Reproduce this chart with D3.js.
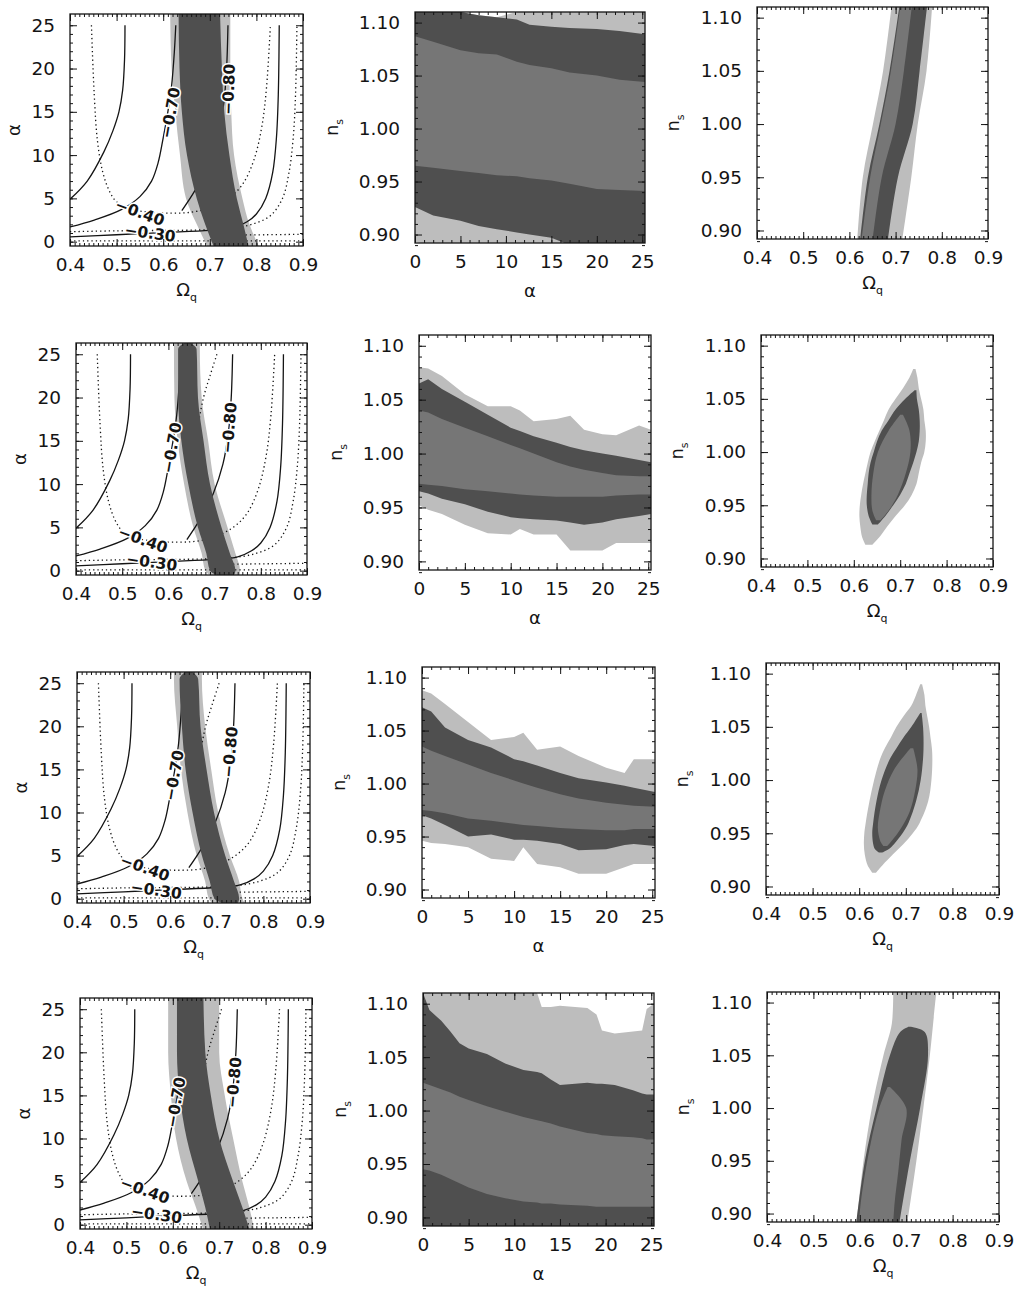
<!DOCTYPE html>
<html><head><meta charset="utf-8">
<script src="https://cdn.jsdelivr.net/npm/d3@7"></script>
<style>body{margin:0;background:#fff}svg{display:block}</style>
</head><body>
<svg id="fig" width="1017" height="1293"></svg>
<script>
// ---------------- tick labels ----------------
const omegaTicks = [0.4, 0.5, 0.6, 0.7, 0.8, 0.9];
const alphaTicks = [0, 5, 10, 15, 20, 25];
const nsTicks = [0.90, 0.95, 1.00, 1.05, 1.10];

// ---------------- left column: (Omega_q, alpha) bands ----------------
// [alpha, lightLo, lightHi, darkLo, darkHi]  (Omega_q bounds)
const bandL1 = [[26.3,0.615,0.744,0.633,0.722],[20,0.618,0.744,0.635,0.726],[15,0.626,0.746,0.640,0.731],
  [10,0.636,0.752,0.651,0.742],[5,0.649,0.770,0.672,0.758],[2,0.672,0.785,0.690,0.772],[-0.5,0.694,0.805,0.708,0.783]];
const bandL2 = [[26.3,0.612,0.668,0.634,0.648],[25.6,0.612,0.668,0.621,0.661],[20,0.613,0.672,0.621,0.664],
  [15,0.620,0.686,0.628,0.676],[10,0.634,0.700,0.643,0.690],[5,0.654,0.728,0.664,0.715],[2,0.672,0.745,0.682,0.733],
  [0,0.680,0.755,0.690,0.745],[-0.5,0.690,0.755,0.705,0.742]];
const bandL3 = [[26.3,0.608,0.668,0.632,0.648],[25.5,0.608,0.668,0.620,0.660],[20,0.615,0.675,0.625,0.665],
  [15,0.623,0.688,0.633,0.678],[10,0.637,0.703,0.648,0.694],[5,0.657,0.728,0.668,0.718],[2,0.675,0.748,0.685,0.737],
  [0,0.683,0.755,0.695,0.748],[-0.5,0.690,0.760,0.712,0.745]];
const bandL4 = [[26.3,0.590,0.700,0.609,0.666],[20,0.590,0.700,0.609,0.670],[15,0.596,0.712,0.615,0.682],
  [10,0.607,0.730,0.630,0.700],[5,0.630,0.750,0.655,0.730],[2,0.650,0.765,0.670,0.750],[-0.5,0.665,0.775,0.680,0.765]];

// contour curves [Omega_q, alpha]
const curveS1 = [[0.400,4.9],[0.437,7.0],[0.473,10.4],[0.492,12.8],[0.505,15],[0.513,17.5],[0.517,21],[0.518,25]];
const curveS2 = [[0.400,1.7],[0.452,2.5],[0.510,3.7],[0.550,5.2],[0.575,7.0],[0.589,9.1],[0.600,12],[0.610,15],[0.618,18],[0.624,22],[0.627,25]];
const curveS3 = [[0.400,0.55],[0.500,0.8],[0.600,1.05],[0.700,1.3],[0.750,1.6],[0.780,2.3],[0.800,3.2],[0.820,5.0],[0.835,8.0],[0.843,12],[0.847,17],[0.849,25]];
const curveS4 = [[0.640,3.6],[0.668,5.9],[0.697,8.9],[0.718,12.3],[0.730,16],[0.736,20],[0.739,25]];
const curveD1 = [[0.446,25],[0.452,17],[0.459,11.6],[0.470,8.1],[0.484,5.9],[0.500,4.6],[0.530,3.8],[0.570,3.4],[0.620,3.3],
  [0.660,3.4],[0.700,3.9],[0.740,5.0],[0.770,6.6],[0.795,9.5],[0.812,13.4],[0.822,18],[0.830,25]];
const curveD2 = [[0.705,25],[0.690,22.5],[0.676,20],[0.662,16],[0.652,12]];
const curveD3 = [[0.400,1.15],[0.500,1.25],[0.600,1.3],[0.680,1.35],[0.740,1.5],[0.790,2.0],[0.830,3.0],[0.856,5.0],
  [0.870,8.0],[0.879,12],[0.884,17],[0.887,25]];
const curveD4 = [[0.400,0.1],[0.650,0.1],[0.900,0.1]];
const curveD5 = [[0.740,0.75],[0.820,0.8],[0.900,0.85]];

// contour labels [text, Omega_q, alpha, angle]
const labelsL1 = [["\u22120.70",0.615,14.9,-80],["\u22120.80",0.740,17.6,-88],["\u22120.40",0.550,3.4,20],["\u22120.30",0.572,1.0,8]];
const labelsL2 = [["\u22120.70",0.607,14.2,-80],["\u22120.80",0.731,16.5,-85],["\u22120.40",0.545,3.6,20],["\u22120.30",0.564,1.0,8]];
const labelsL3 = [["\u22120.70",0.608,14.3,-80],["\u22120.80",0.728,17.0,-85],["\u22120.40",0.546,3.6,20],["\u22120.30",0.570,1.0,8]];
const labelsL4 = [["\u22120.70",0.606,14.2,-80],["\u22120.80",0.731,16.5,-85],["\u22120.40",0.540,4.0,20],["\u22120.30",0.565,1.2,8]];

// ---------------- middle column: (alpha, n_s) ----------------
// [alpha, lightLo, lightHi, darkLo, darkHi, medLo, medHi]
const mid1 = [[0,0.893,1.11,0.926,1.11,0.965,1.087],[2,0.89,1.11,0.918,1.11,0.963,1.082],[5,0.89,1.11,0.913,1.11,0.960,1.074],
  [7,0.89,1.107,0.908,1.107,0.958,1.071],[9,0.89,1.105,0.905,1.105,0.956,1.070],[11.2,0.89,1.11,0.902,1.103,0.955,1.063],
  [12.6,0.89,1.11,0.900,1.098,0.953,1.060],[15,0.89,1.11,0.897,1.096,0.951,1.057],[17,0.89,1.11,0.89,1.095,0.948,1.053],
  [20,0.89,1.11,0.89,1.094,0.943,1.050],[22.5,0.89,1.11,0.89,1.092,0.942,1.046],[25.3,0.89,1.11,0.89,1.089,0.941,1.044]];
const mid2 = [[0,0.952,1.080,0.965,1.065,0.972,1.040],[1,0.948,1.079,0.963,1.069,0.971,1.038],[2.5,0.944,1.072,0.958,1.060,0.970,1.032],
  [5,0.934,1.055,0.953,1.048,0.967,1.024],[7.5,0.926,1.044,0.946,1.036,0.965,1.016],[10,0.925,1.044,0.941,1.024,0.963,1.008],
  [11,0.930,1.040,0.940,1.021,0.962,1.005],[12.5,0.925,1.030,0.939,1.016,0.961,1.000],[15,0.925,1.032,0.938,1.010,0.960,0.992],
  [16.5,0.910,1.035,0.936,1.006,0.960,0.988],[18,0.910,1.022,0.934,1.003,0.960,0.985],[20,0.910,1.018,0.936,1.000,0.960,0.982],
  [21.5,0.917,1.017,0.939,0.998,0.961,0.980],[24,0.917,1.026,0.942,0.994,0.962,0.979],[25.3,0.917,1.022,0.944,0.992,0.962,0.979]];
const mid3 = [[0,0.946,1.088,0.970,1.072,0.975,1.035],[1,0.944,1.085,0.967,1.068,0.974,1.031],[2.5,0.943,1.075,0.961,1.053,0.972,1.026],
  [5,0.940,1.058,0.950,1.041,0.967,1.018],[7.5,0.929,1.041,0.952,1.034,0.965,1.010],[10,0.927,1.044,0.947,1.023,0.962,1.003],
  [11,0.940,1.048,0.947,1.021,0.961,1.000],[12.5,0.924,1.032,0.946,1.017,0.960,0.996],[15,0.921,1.035,0.943,1.010,0.958,0.990],
  [17,0.915,1.026,0.937,1.005,0.957,0.986],[20,0.915,1.015,0.938,1.001,0.956,0.982],[22,0.921,1.010,0.942,0.998,0.956,0.980],
  [23,0.924,1.023,0.943,0.996,0.957,0.979],[25.3,0.924,1.023,0.941,0.992,0.957,0.978]];
const mid4 = [[0,0.89,1.11,0.89,1.11,0.945,1.026],[0.7,0.89,1.11,0.89,1.094,0.944,1.024],[2,0.89,1.11,0.89,1.084,0.940,1.020],
  [3,0.89,1.11,0.89,1.074,0.936,1.017],[4,0.89,1.11,0.89,1.063,0.932,1.013],[5,0.89,1.11,0.89,1.058,0.928,1.010],
  [7,0.89,1.11,0.89,1.053,0.922,1.004],[9,0.89,1.11,0.89,1.044,0.918,0.999],[11,0.89,1.11,0.89,1.038,0.915,0.994],
  [12.5,0.89,1.11,0.89,1.036,0.914,0.991],[13,0.89,1.097,0.89,1.035,0.913,0.990],[14,0.89,1.097,0.89,1.029,0.913,0.988],
  [15,0.89,1.098,0.89,1.024,0.912,0.985],[18,0.89,1.096,0.89,1.026,0.911,0.979],[19,0.89,1.090,0.89,1.025,0.910,0.978],
  [19.6,0.89,1.075,0.89,1.025,0.910,0.977],[21,0.89,1.072,0.89,1.024,0.910,0.976],[23,0.89,1.074,0.89,1.019,0.910,0.975],
  [24,0.89,1.075,0.89,1.016,0.910,0.974],[24.5,0.89,1.095,0.89,1.015,0.910,0.973],[25.3,0.89,1.10,0.89,1.015,0.910,0.973]];

// ---------------- right column: (Omega_q, n_s) ----------------
// [n_s, OmegaLo, OmegaHi]
const rLight1 = [[1.11,0.691,0.779],[1.05,0.673,0.767],[1.00,0.651,0.748],[0.95,0.629,0.734],[0.89,0.617,0.714]];
const rDark1 = [[1.11,0.708,0.768],[1.05,0.687,0.752],[1.00,0.665,0.737],[0.95,0.640,0.705],[0.89,0.623,0.683]];
const rMed1 = [[1.11,0.710,0.735],[1.05,0.690,0.718],[1.00,0.668,0.700],[0.95,0.645,0.670],[0.89,0.626,0.650]];
const rLight2 = [[1.078,0.728,0.733],[1.07,0.720,0.737],[1.06,0.706,0.740],[1.05,0.690,0.745],[1.04,0.675,0.750],
  [1.03,0.665,0.752],[1.02,0.655,0.755],[1.01,0.645,0.755],[1.00,0.636,0.752],[0.99,0.630,0.745],[0.98,0.625,0.740],
  [0.97,0.620,0.735],[0.96,0.616,0.725],[0.95,0.613,0.710],[0.94,0.612,0.690],[0.93,0.614,0.672],[0.92,0.618,0.655],[0.913,0.625,0.640]];
const rDark2 = [[1.058,0.731,0.735],[1.05,0.711,0.736],[1.04,0.690,0.740],[1.03,0.675,0.742],[1.02,0.660,0.742],
  [1.01,0.650,0.740],[1.00,0.643,0.735],[0.99,0.636,0.728],[0.98,0.632,0.720],[0.97,0.630,0.712],[0.96,0.628,0.700],
  [0.95,0.628,0.685],[0.94,0.632,0.668],[0.932,0.640,0.652]];
const rMed2 = [[1.035,0.700,0.706],[1.02,0.675,0.720],[1.00,0.652,0.722],[0.98,0.642,0.712],[0.96,0.638,0.695],[0.945,0.640,0.675],[0.936,0.648,0.658]];
const rLight3 = [[1.09,0.731,0.735],[1.08,0.722,0.740],[1.07,0.712,0.742],[1.06,0.695,0.746],[1.05,0.680,0.750],
  [1.04,0.668,0.753],[1.03,0.655,0.756],[1.02,0.645,0.757],[1.00,0.632,0.755],[0.98,0.622,0.748],[0.96,0.614,0.730],
  [0.95,0.611,0.715],[0.94,0.610,0.695],[0.93,0.612,0.672],[0.92,0.618,0.650],[0.913,0.628,0.636]];
const rDark3 = [[1.063,0.731,0.734],[1.05,0.712,0.737],[1.04,0.695,0.738],[1.03,0.680,0.738],[1.02,0.666,0.737],
  [1.00,0.648,0.732],[0.98,0.637,0.722],[0.96,0.630,0.706],[0.95,0.628,0.693],[0.94,0.630,0.675],[0.935,0.634,0.663],[0.932,0.642,0.650]];
const rMed3 = [[1.03,0.710,0.716],[1.01,0.675,0.725],[0.99,0.655,0.720],[0.97,0.644,0.708],[0.955,0.640,0.690],[0.943,0.645,0.670],[0.938,0.652,0.660]];
const rLight4 = [[1.11,0.672,0.765],[1.08,0.669,0.758],[1.05,0.651,0.751],[1.00,0.626,0.737],[0.95,0.608,0.722],[0.89,0.593,0.702]];
const rDark4 = [[1.077,0.705,0.709],[1.072,0.687,0.740],[1.05,0.665,0.747],[1.00,0.636,0.730],[0.95,0.611,0.708],[0.89,0.592,0.685]];
const rMed4 = [[1.02,0.660,0.665],[1.00,0.642,0.700],[0.97,0.625,0.690],[0.94,0.612,0.683],[0.91,0.602,0.675],[0.89,0.598,0.672]];

// ---------------- layout / style ----------------
const boxes = [
  [[70,14,303,246],[415,12,645,243],[757,7,988,239]],
  [[76,343,307,575],[419,335,651,570],[761,335,993,567]],
  [[77,672,310,903],[422,667,655,898],[766,663,999,895]],
  [[80,998,312,1229],[423,993,654,1226],[767,992,999,1222]]
];
const OMEGA_DOM = [0.4, 0.9], ALPHA_DOM = [-0.5, 26.3], ALPHA_X_DOM = [0, 25.3], NS_DOM = [0.892, 1.11];
const C_LIGHT = "#bdbdbd", C_DARK = "#4f4f4f", C_MED = "#767676", INK = "#141414";
const FONT = "DejaVu Sans, sans-serif";

const omegaMinor = d3.range(40, 91).map(v => v / 100);
const alphaMinor = d3.range(0, 26);
const nsMinor = d3.range(89, 111).map(v => v / 100);

const svg = d3.select("#fig");
const defs = svg.append("defs");
let clipN = 0;

function makePanel(box, xDom, yDom) {
  const [x0, y0, x1, y1] = box;
  const x = d3.scaleLinear().domain(xDom).range([x0, x1]);
  const y = d3.scaleLinear().domain(yDom).range([y1, y0]);
  const id = "clip" + (clipN++);
  defs.append("clipPath").attr("id", id).append("rect")
    .attr("x", x0).attr("y", y0).attr("width", x1 - x0).attr("height", y1 - y0);
  const g = svg.append("g");
  const plot = g.append("g").attr("clip-path", `url(#${id})`);
  return { x, y, g, plot, box };
}

function axes(p, xTicks, xMinor, yTicks, yMinor, xFmt, yFmt) {
  const { x, y, g, box: [x0, y0, x1, y1] } = p;
  const mk = (axis, tx, ty) => g.append("g").attr("transform", `translate(${tx},${ty})`)
    .call(axis).call(s => s.select(".domain").remove());
  mk(d3.axisBottom(x).tickValues(xMinor).tickSizeInner(-3).tickSizeOuter(0).tickFormat(""), 0, y1);
  mk(d3.axisTop(x).tickValues(xMinor).tickSizeInner(-3).tickSizeOuter(0).tickFormat(""), 0, y0);
  mk(d3.axisLeft(y).tickValues(yMinor).tickSizeInner(-3).tickSizeOuter(0).tickFormat(""), x0, 0);
  mk(d3.axisRight(y).tickValues(yMinor).tickSizeInner(-3).tickSizeOuter(0).tickFormat(""), x1, 0);
  mk(d3.axisBottom(x).tickValues(xTicks).tickSizeInner(-7).tickSizeOuter(0).tickPadding(12).tickFormat(xFmt), 0, y1);
  mk(d3.axisTop(x).tickValues(xTicks).tickSizeInner(-7).tickSizeOuter(0).tickFormat(""), 0, y0);
  mk(d3.axisLeft(y).tickValues(yTicks).tickSizeInner(-7).tickSizeOuter(0).tickPadding(15).tickFormat(yFmt), x0, 0);
  mk(d3.axisRight(y).tickValues(yTicks).tickSizeInner(-7).tickSizeOuter(0).tickFormat(""), x1, 0);
  g.selectAll(".tick line").attr("stroke", INK).attr("stroke-width", 1);
  g.selectAll(".tick text").attr("font-family", FONT).attr("font-size", 18.5).attr("fill", INK);
  g.append("rect").attr("x", x0).attr("y", y0).attr("width", x1 - x0).attr("height", y1 - y0)
    .attr("fill", "none").attr("stroke", INK).attr("stroke-width", 1.3);
}

function xTitle(p, main, sub, dy) {
  const [x0, y0, x1, y1] = p.box;
  const t = p.g.append("text").attr("x", (x0 + x1) / 2).attr("y", y1 + dy).attr("text-anchor", "middle")
    .attr("font-family", FONT).attr("font-size", 18).attr("fill", INK);
  t.append("tspan").text(main);
  if (sub) t.append("tspan").attr("font-size", 11).attr("dy", 5).text(sub);
}
function yTitle(p, main, sub, dx) {
  const [x0, y0, x1, y1] = p.box;
  const cx = x0 - dx, cy = (y0 + y1) / 2;
  const t = p.g.append("text").attr("transform", `translate(${cx},${cy}) rotate(-90)`).attr("text-anchor", "middle")
    .attr("font-family", FONT).attr("font-size", 18).attr("fill", INK);
  t.append("tspan").text(main);
  if (sub) t.append("tspan").attr("font-size", 11).attr("dy", 5).text(sub);
}

const fmt1 = d3.format(".1f"), fmt2 = d3.format(".2f"), fmt0 = d3.format("d");

// ---------- left panels ----------
const leftBands = [bandL1, bandL2, bandL3, bandL4];
const leftLabels = [labelsL1, labelsL2, labelsL3, labelsL4];
const solidCurves = [curveS1, curveS2, curveS3, curveS4];
const dottedCurves = [curveD1, curveD2, curveD3, curveD4, curveD5];

leftBands.forEach((band, r) => {
  const p = makePanel(boxes[r][0], OMEGA_DOM, ALPHA_DOM);
  const { x, y, plot } = p;
  const areaL = d3.area().y(d => y(d[0])).x0(d => x(d[1])).x1(d => x(d[2])).curve(d3.curveMonotoneY);
  const areaD = d3.area().y(d => y(d[0])).x0(d => x(d[3])).x1(d => x(d[4])).curve(d3.curveMonotoneY);
  plot.append("path").datum(band).attr("d", areaL).attr("fill", C_LIGHT);
  const line = d3.line().x(d => x(d[0])).y(d => y(d[1])).curve(d3.curveCatmullRom.alpha(0.5));
  plot.selectAll(".sc").data(solidCurves).join("path").attr("d", line)
    .attr("fill", "none").attr("stroke", INK).attr("stroke-width", 1.3);
  plot.selectAll(".dc").data(dottedCurves).join("path").attr("d", line)
    .attr("fill", "none").attr("stroke", INK).attr("stroke-width", 1.3).attr("stroke-dasharray", "1.3 3");
  plot.append("path").datum(band).attr("d", areaD).attr("fill", C_DARK);
  plot.selectAll(".lab").data(leftLabels[r]).join("text")
    .attr("transform", d => `translate(${x(d[1])},${y(d[2])}) rotate(${d[3]})`)
    .attr("text-anchor", "middle").attr("dy", "0.36em")
    .attr("font-family", FONT).attr("font-size", 15.5).attr("font-weight", "bold").attr("fill", INK)
    .attr("stroke", "#fff").attr("stroke-width", 3).attr("paint-order", "stroke").text(d => d[0]);
  axes(p, omegaTicks, omegaMinor, alphaTicks, alphaMinor, fmt1, fmt0);
  xTitle(p, "\u03A9", "q", 50);
  yTitle(p, "\u03B1", null, 50);
});

// ---------- middle panels ----------
const midData = [mid1, mid2, mid3, mid4];
midData.forEach((rows, r) => {
  const p = makePanel(boxes[r][1], ALPHA_X_DOM, NS_DOM);
  const { x, y, plot } = p;
  const mkArea = (lo, hi) => d3.area().x(d => x(d[0])).y0(d => y(d[lo])).y1(d => y(d[hi]));
  plot.append("path").datum(rows).attr("d", mkArea(1, 2)).attr("fill", C_LIGHT);
  plot.append("path").datum(rows).attr("d", mkArea(3, 4)).attr("fill", C_DARK);
  plot.append("path").datum(rows).attr("d", mkArea(5, 6)).attr("fill", C_MED);
  axes(p, alphaTicks, alphaMinor, nsTicks, nsMinor, fmt0, fmt2);
  xTitle(p, "\u03B1", null, 54);
  yTitle(p, "n", "s", 77);
});

// ---------- right panels ----------
const rightSets = [[rLight1, rDark1, rMed1], [rLight2, rDark2, rMed2], [rLight3, rDark3, rMed3], [rLight4, rDark4, rMed4]];
const rightColors = [C_LIGHT, C_DARK, C_MED];
rightSets.forEach((sets, r) => {
  const p = makePanel(boxes[r][2], OMEGA_DOM, NS_DOM);
  const { x, y, plot } = p;
  const area = d3.area().y(d => y(d[0])).x0(d => x(d[1])).x1(d => x(d[2])).curve(d3.curveCatmullRom.alpha(0.5));
  sets.forEach((s, i) => plot.append("path").datum(s).attr("d", area).attr("fill", rightColors[i]));
  axes(p, omegaTicks, omegaMinor, nsTicks, nsMinor, fmt1, fmt2);
  xTitle(p, "\u03A9", "q", 50);
  yTitle(p, "n", "s", 78);
});
</script>
</body></html>
